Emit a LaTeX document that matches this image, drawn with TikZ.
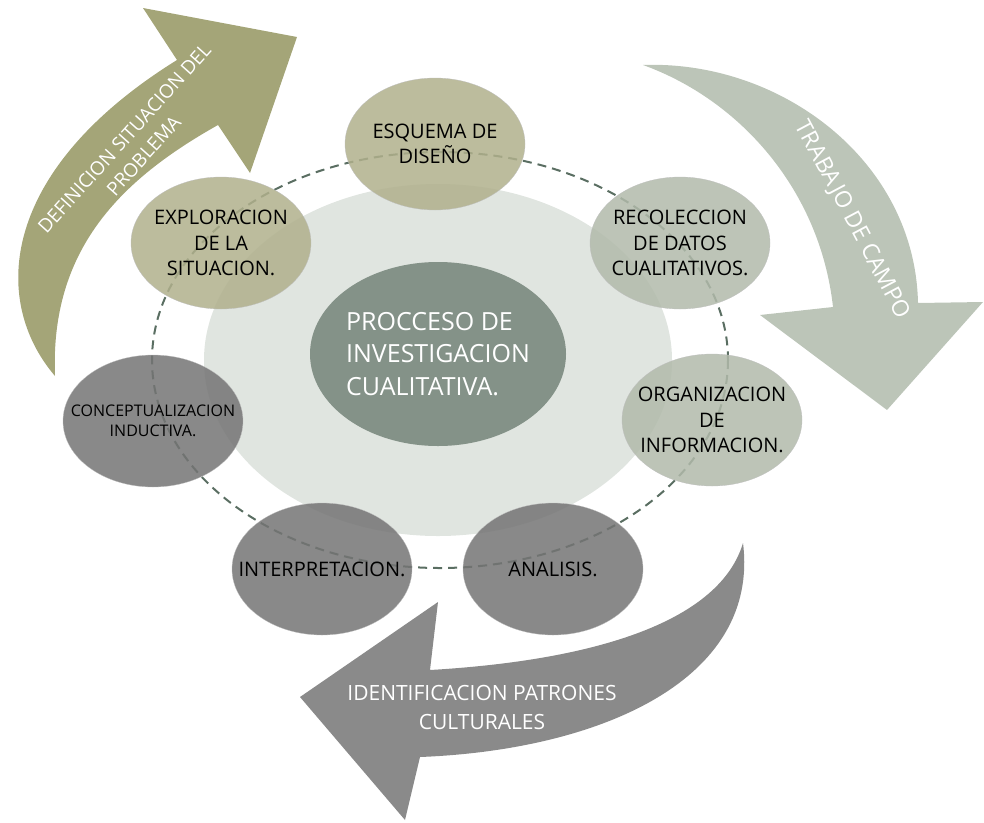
\documentclass[tikz,border=0pt]{standalone}
\usepackage{fontspec}
\setmainfont{Open Sans}
\usetikzlibrary{shapes.geometric}

\definecolor{olivearrow}{RGB}{164,165,120}
\definecolor{greenarrow}{RGB}{188,197,184}
\definecolor{grayarrow}{RGB}{138,138,138}
\definecolor{olivefill}{RGB}{176,176,140}
\definecolor{greenfill}{RGB}{177,186,170}
\definecolor{grayfill}{RGB}{116,116,116}
\definecolor{corefill}{RGB}{132,146,136}
\definecolor{haloFill}{RGB}{224,229,224}
\definecolor{ringline}{RGB}{90,110,98}

\begin{document}
\begin{tikzpicture}[x=1pt, y=-1pt,
  stage/.style={ellipse, minimum width=180pt, minimum height=132pt, inner sep=0pt,
    draw=black!25, line width=0.3pt, fill opacity=0.85},
  stagetext/.style={align=center, text=black, font=\fontsize{20}{25.5}\selectfont},
  flowtext/.style={align=center, text=white, font=\fontsize{20}{27}\selectfont}]
\useasboundingbox (0,0) rectangle (984,822);

% outer arrows
\fill[olivearrow] (55,376) .. controls (-10,300) and (0,170) .. (177,60)
  -- (143,8) -- (297,37) -- (250,173) -- (218,125)
  .. controls (120,180) and (50,250) .. (55,376) -- cycle;
\fill[greenarrow] (643,65) .. controls (780,60) and (915,160) .. (918,303)
  -- (983,302) -- (887,410) -- (760,315) -- (833,307)
  .. controls (820,190) and (740,100) .. (643,65) -- cycle;
\fill[grayarrow] (743,543) .. controls (760,680) and (600,750) .. (420,757)
  -- (405,820) -- (300,697) -- (438,602) -- (430,670)
  .. controls (600,660) and (720,620) .. (743,543) -- cycle;

\node[flowtext, rotate=48, font=\fontsize{19}{26}\selectfont] (definicion) at (134,147) {DEFINICION SITUACION DEL\\PROBLEMA};
\node[flowtext, rotate=-62, font=\fontsize{23}{27}\selectfont] (campo) at (852,220) {TRABAJO DE CAMPO};
\node[flowtext, font=\fontsize{21}{29}\selectfont] (patrones) at (482,707) {IDENTIFICACION PATRONES\\CULTURALES};

% background halo and ring
\fill[haloFill] (438,360) ellipse [x radius=234, y radius=176];
\draw[ringline, line width=2pt, dash pattern=on 9pt off 6pt] (440,360) ellipse [x radius=288, y radius=208];

% stages
\node[stage, fill=olivefill] (esquema) at (435,144) {};
\node[stage, fill=olivefill] (exploracion) at (221,243) {};
\node[stage, fill=greenfill] (recoleccion) at (680,243) {};
\node[stage, fill=greenfill] (organizacion) at (712,420) {};
\node[stage, fill=grayfill] (analisis) at (553,569) {};
\node[stage, fill=grayfill] (interpretacion) at (322,569) {};
\node[stage, fill=grayfill] (conceptualizacion) at (153,421) {};

\node[stagetext] at (esquema) {ESQUEMA DE\\DISEÑO};
\node[stagetext] at (exploracion) {EXPLORACION\\DE LA\\SITUACION.};
\node[stagetext] at (recoleccion) {RECOLECCION\\DE DATOS\\CUALITATIVOS.};
\node[stagetext] at (organizacion) {ORGANIZACION\\DE\\INFORMACION.};
\node[stagetext] at (analisis) {ANALISIS.};
\node[stagetext] at (interpretacion) {INTERPRETACION.};
\node[stagetext, font=\fontsize{16}{20}\selectfont] at (conceptualizacion) {CONCEPTUALIZACION\\INDUCTIVA.};

% core
\node[ellipse, fill=corefill, minimum width=256pt, minimum height=184pt, inner sep=0pt] (core) at (438,354) {};
\node[align=left, text=white, font=\fontsize{25}{32.5}\selectfont] at (core) {PROCCESO DE\\INVESTIGACION\\CUALITATIVA.};
\end{tikzpicture}
\end{document}
